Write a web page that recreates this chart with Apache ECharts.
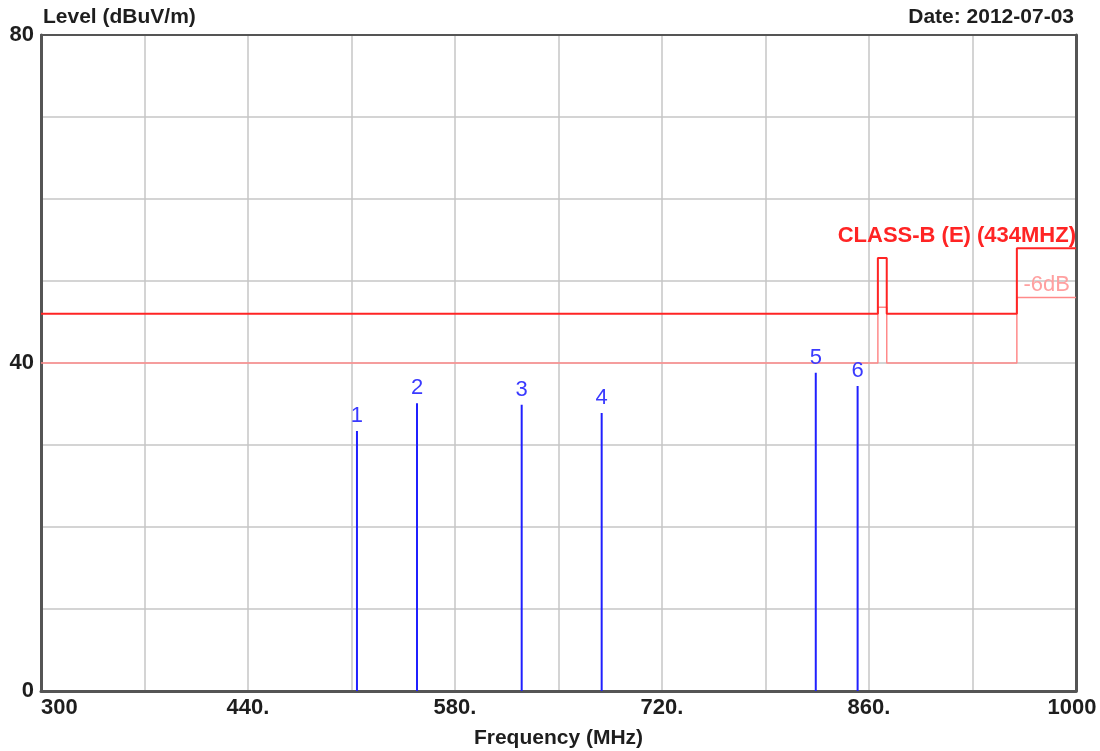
<!DOCTYPE html>
<html>
<head>
<meta charset="utf-8">
<script src="https://cdn.jsdelivr.net/npm/echarts@6/dist/echarts.min.js"></script>
<style>
html,body{margin:0;padding:0;background:#fff;}
#chart{width:1100px;height:751px;}
</style>
</head>
<body>
<div id="chart"></div>
<script>
// ---- data ----
const markerIds = ['1','2','3','4','5','6'];
const markerFreq = [513.7, 554.3, 625.1, 679.2, 824.0, 852.3];
const markerLevel = [31.7, 35.1, 34.9, 33.9, 38.8, 37.2];

const limitFreq  = [300, 866, 866, 872, 872, 960, 960, 1000];
const limitLevel = [46, 46, 52.8, 52.8, 46, 46, 54, 54];
const marginLevel = [40, 40, 46.8, 46.8, 40, 40, 48, 48];

const xTickLabels = {300:'300', 440:'440.', 580:'580.', 720:'720.', 860:'860.', 1000:'1000'};
const yTickLabels = {0:'0', 40:'40', 80:'80'};

const limitName = 'CLASS-B (E) (434MHZ)';
const marginName = '-6dB';
const yTitle = 'Level (dBuV/m)';
const xTitle = 'Frequency (MHz)';
const dateText = 'Date: 2012-07-03';

// ---- chart ----
const FONT = '"Liberation Sans", Arial, sans-serif';
const TXT = '#1e1e1e';
const FRAME = '#555555';
const chart = echarts.init(document.getElementById('chart'));

const markers = markerFreq.map((f, i) => [f, markerLevel[i], markerIds[i]]);

chart.setOption({
  animation: false,
  backgroundColor: '#fff',
  title: [
    {text: yTitle, left: 38, top: 2, textStyle: {fontFamily: FONT, fontSize: 21, fontWeight: 'bold', color: TXT}},
    {text: dateText, right: 21, top: 2, textStyle: {fontFamily: FONT, fontSize: 21, fontWeight: 'bold', color: TXT}}
  ],
  grid: {left: 41, right: 24, top: 35, bottom: 60, show: false, containLabel: false, outerBoundsMode: 'none'},
  xAxis: [{
    type: 'value', min: 300, max: 1000, interval: 70,
    name: xTitle, nameLocation: 'middle', nameGap: 37,
    nameTextStyle: {fontFamily: FONT, fontSize: 21, fontWeight: 'bold', color: TXT},
    axisLine: {show: true, lineStyle: {color: FRAME, width: 3}},
    axisTick: {show: false},
    splitLine: {show: true, showMinLine: false, showMaxLine: false, lineStyle: {color: '#c6c6c6', width: 1.5}},
    axisLabel: {
      fontFamily: FONT, fontSize: 22, fontWeight: 'bold', color: TXT, margin: 6,
      alignMinLabel: 'left', alignMaxLabel: 'center',
      formatter: v => (Math.round(v) === 1000 ? '{r|' + xTickLabels[1000] + '}' : (xTickLabels[Math.round(v)] || '')),
      rich: {r: {fontFamily: FONT, fontSize: 22, fontWeight: 'bold', color: TXT, padding: [0, 8, 0, 0]}}
    }
  }, {
    type: 'value', min: 300, max: 1000, position: 'top',
    axisLine: {show: true, onZero: false, lineStyle: {color: FRAME, width: 2}},
    axisTick: {show: false}, axisLabel: {show: false}, splitLine: {show: false}
  }],
  yAxis: [{
    type: 'value', min: 0, max: 80, interval: 10,
    axisLine: {show: true, lineStyle: {color: FRAME, width: 3}},
    axisTick: {show: false},
    splitLine: {show: true, showMinLine: false, showMaxLine: false, lineStyle: {color: '#c6c6c6', width: 1.5}},
    axisLabel: {
      fontFamily: FONT, fontSize: 22, fontWeight: 'bold', color: TXT, margin: 7,
      formatter: v => yTickLabels[Math.round(v)] || ''
    }
  }, {
    type: 'value', min: 0, max: 80, position: 'right',
    axisLine: {show: true, onZero: false, lineStyle: {color: FRAME, width: 3}},
    axisTick: {show: false}, axisLabel: {show: false}, splitLine: {show: false}
  }],
  series: [
    {
      type: 'line', name: marginName,
      data: limitFreq.map((f, i) => [f, marginLevel[i]]),
      symbol: 'none', lineStyle: {color: '#ff8a8a', width: 1.5}, z: 3,
      markPoint: {
        symbolSize: 0, silent: true,
        data: [{coord: [1000, 48], value: marginName}],
        label: {show: true, position: 'inside', formatter: marginName, align: 'right', verticalAlign: 'bottom',
                offset: [-6, -1], fontFamily: FONT, fontSize: 22, color: '#ffa0a0'}
      }
    },
    {
      type: 'line', name: limitName,
      data: limitFreq.map((f, i) => [f, limitLevel[i]]),
      symbol: 'none', lineStyle: {color: '#ff2424', width: 2}, z: 4,
      markPoint: {
        symbolSize: 0, silent: true,
        data: [{coord: [1000, 54], value: limitName}],
        label: {show: true, position: 'inside', formatter: limitName, align: 'right', verticalAlign: 'bottom',
                offset: [0, -1], fontFamily: FONT, fontSize: 22, fontWeight: 'bold', color: '#ff2424'}
      }
    },
    {
      type: 'custom', name: 'markers', z: 5,
      data: markers,
      encode: {x: 0, y: 1},
      renderItem: function (params, api) {
        const p0 = api.coord([api.value(0), 0]);
        const p1 = api.coord([api.value(0), api.value(1)]);
        return {
          type: 'group',
          children: [
            {type: 'line', shape: {x1: p0[0], y1: p0[1], x2: p1[0], y2: p1[1]},
             style: {stroke: '#2020ff', lineWidth: 2}},
            {type: 'text', x: p1[0], y: p1[1] - 4,
             style: {text: markers[params.dataIndex][2], fill: '#3a3aff', font: '22px ' + FONT,
                     textAlign: 'center', textVerticalAlign: 'bottom'}}
          ]
        };
      }
    }
  ]
});
</script>
</body>
</html>
